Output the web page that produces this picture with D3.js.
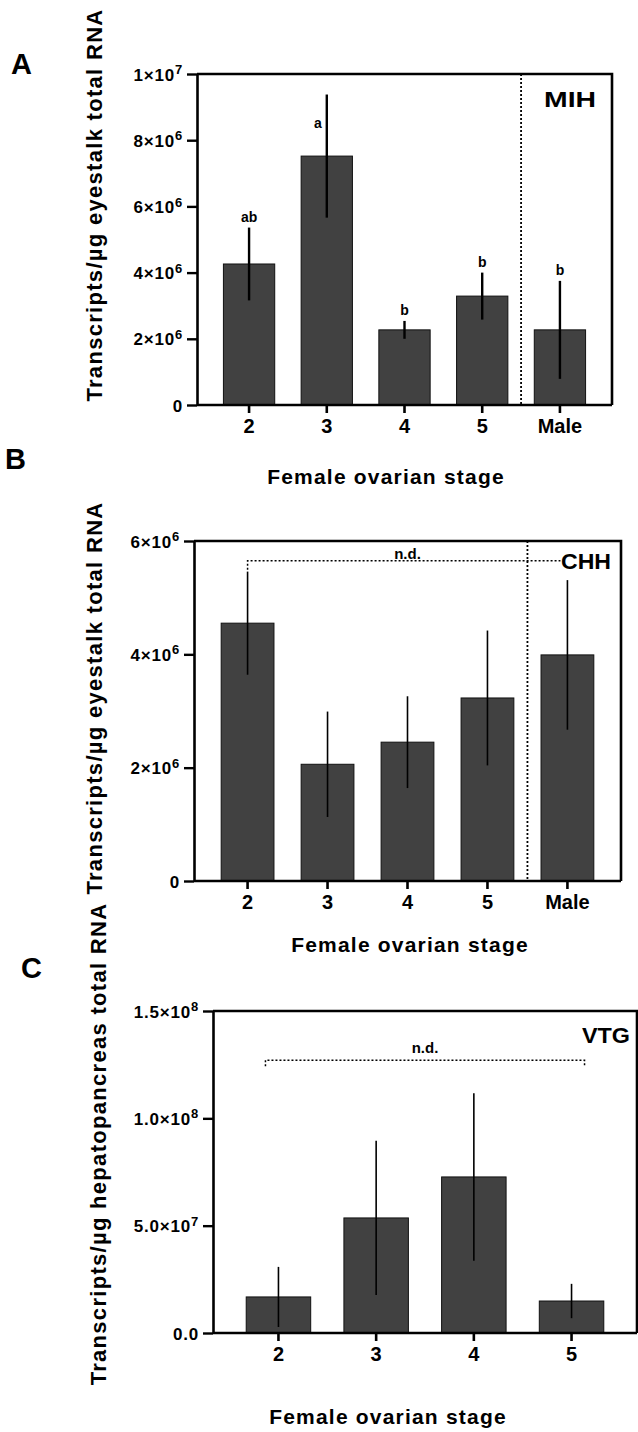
<!DOCTYPE html>
<html>
<head>
<meta charset="UTF-8">
<title>MIH CHH VTG</title>
<script src="https://d3js.org/d3.v7.min.js"></script>
<style>
  body { margin: 0; background: #fff; }
  svg text { font-family: "Liberation Sans", Arial, sans-serif; font-weight: bold; fill: #000; }
</style>
</head>
<body>
<svg id="chart" width="638" height="1432"></svg>
<script>
// --- data ---
const stages = ['2', '3', '4', '5', 'Male'];
const stagesVtg = ['2', '3', '4', '5'];

const mihMean = [4.26e6, 7.52e6, 2.27e6, 3.29e6, 2.27e6];
const mihErr = [1.10e6, 1.86e6, 0.27e6, 0.71e6, 1.48e6];
const mihLetters = ['ab', 'a', 'b', 'b', 'b'];

const chhMean = [4.55e6, 2.06e6, 2.45e6, 3.23e6, 3.99e6];
const chhErr = [0.91e6, 0.93e6, 0.81e6, 1.19e6, 1.32e6];

const vtgMean = [1.68e7, 5.36e7, 7.27e7, 1.49e7];
const vtgErr = [1.40e7, 3.59e7, 3.90e7, 0.80e7];

const ticksA = [0, 2e6, 4e6, 6e6, 8e6, 1e7];
const ticksB = [0, 2e6, 4e6, 6e6];
const ticksC = [0, 5e7, 1e8, 1.5e8];

const svg = d3.select('#chart');
svg.append('rect').attr('width', 638).attr('height', 1432).attr('fill', '#fff');

// 2×10^6 style labels
function sci(d, dec) {
  if (d === 0) return { m: (0).toFixed(dec), e: null };
  const e = Math.floor(Math.log10(d) + 1e-9);
  return { m: (d / Math.pow(10, e)).toFixed(dec) + '×10', e: e };
}

function drawPanel(cfg) {
  const x = d3.scaleBand().domain(cfg.cats).range([cfg.l, cfg.r]).padding(0.34);
  const y = d3.scaleLinear().domain([0, cfg.max]).range([cfg.b, cfg.t]);
  const g = svg.append('g');
  const cx = c => x(c) + x.bandwidth() / 2;

  // bars
  g.selectAll('rect.bar')
    .data(cfg.mean)
    .join('rect')
    .attr('class', 'bar')
    .attr('x', (d, i) => x(cfg.cats[i]))
    .attr('width', x.bandwidth())
    .attr('y', d => y(d))
    .attr('height', d => y(0) - y(d))
    .attr('fill', '#414141')
    .attr('stroke', '#111')
    .attr('stroke-width', 1);

  // error bars (no caps)
  g.selectAll('line.err')
    .data(cfg.mean)
    .join('line')
    .attr('x1', (d, i) => cx(cfg.cats[i]))
    .attr('x2', (d, i) => cx(cfg.cats[i]))
    .attr('y1', (d, i) => y(d - cfg.err[i]))
    .attr('y2', (d, i) => y(d + cfg.err[i]))
    .attr('stroke', '#000')
    .attr('stroke-width', cfg.errW);

  // dotted separator before "Male"
  if (cfg.cats.includes('Male')) {
    const sx = (cx('5') + cx('Male')) / 2;
    g.append('line')
      .attr('x1', sx).attr('x2', sx)
      .attr('y1', cfg.t).attr('y2', cfg.b)
      .attr('stroke', '#000').attr('stroke-width', 1.8)
      .attr('stroke-dasharray', '2,2');
  }

  // frame
  g.append('path')
    .attr('d', `M${cfg.l},${cfg.t}H${cfg.r}V${cfg.b}`)
    .attr('fill', 'none').attr('stroke', '#000').attr('stroke-width', 2.6);

  // y axis
  const ya = g.append('g')
    .attr('transform', `translate(${cfg.l},0)`)
    .call(d3.axisLeft(y).tickValues(cfg.ticks).tickSize(10).tickSizeOuter(0).tickPadding(4));
  ya.select('.domain').attr('stroke-width', 2.6);
  ya.selectAll('.tick line').attr('stroke-width', 2.4);
  ya.selectAll('.tick text').each(function (d) {
    const t = d3.select(this);
    const s = sci(d, cfg.dec);
    t.text(null)
      .attr('font-size', 17)
      .attr('letter-spacing', 0.8)
      .attr('dy', '0.36em');
    t.append('tspan').text(s.m);
    if (s.e !== null) t.append('tspan').attr('dy', '-0.5em').attr('font-size', 13).text(s.e);
  });
  ya.attr('font-family', null).attr('font-size', null);

  // x axis
  const xa = g.append('g')
    .attr('transform', `translate(0,${cfg.b})`)
    .call(d3.axisBottom(x).tickSize(8).tickSizeOuter(0).tickPadding(6));
  xa.select('.domain').attr('stroke-width', 2.6)
    .attr('d', `M${cfg.l},0H${cfg.r}`);
  xa.selectAll('.tick line').attr('stroke-width', 2.6);
  xa.selectAll('.tick text').attr('font-size', 20);
  xa.attr('font-family', null).attr('font-size', null);

  // x title
  g.append('text')
    .attr('x', cfg.xt[0]).attr('y', cfg.xt[1])
    .attr('text-anchor', 'middle')
    .attr('font-size', 21).attr('letter-spacing', 1.2)
    .text('Female ovarian stage');

  // y title
  g.append('text')
    .attr('transform', `translate(${cfg.yt[0]},${cfg.yt[1]}) rotate(-90)`)
    .attr('text-anchor', 'middle')
    .attr('font-size', 22).attr('letter-spacing', 1.3)
    .text(cfg.ytitle);

  // panel letter
  g.append('text')
    .attr('x', cfg.pl[0]).attr('y', cfg.pl[1])
    .attr('font-size', 29)
    .text(cfg.panel);

  // gene name
  g.append('text')
    .attr('x', cfg.gn[0]).attr('y', cfg.gn[1])
    .attr('text-anchor', 'middle')
    .attr('font-size', 22)
    .attr('textLength', cfg.gn[2]).attr('lengthAdjust', 'spacingAndGlyphs')
    .text(cfg.gene);

  return { g, x, y, cx };
}

// ---------- A: MIH ----------
const A = drawPanel({
  cats: stages, mean: mihMean, err: mihErr, max: 1e7, ticks: ticksA, dec: 0,
  l: 197, r: 612, t: 74, b: 405, errW: 2.4,
  xt: [386, 484], yt: [102, 205], pl: [11, 74], gn: [570, 107, 52],
  ytitle: 'Transcripts/µg eyestalk total RNA', panel: 'A', gene: 'MIH'
});
A.g.selectAll('text.sig')
  .data(mihLetters)
  .join('text')
  .attr('class', 'sig')
  .attr('text-anchor', 'middle')
  .attr('font-size', 14)
  .attr('x', (d, i) => A.cx(stages[i]) + (d === 'a' ? -9 : 0))
  .attr('y', (d, i) => {
    const top = A.y(mihMean[i] + mihErr[i]);
    return d === 'a' ? top + 33 : top - 6;
  })
  .text(d => d);

// ---------- B: CHH ----------
const B = drawPanel({
  cats: stages, mean: chhMean, err: chhErr, max: 6e6, ticks: ticksB, dec: 0,
  l: 194, r: 621, t: 541, b: 881, errW: 1.6,
  xt: [410, 952], yt: [102, 698], pl: [5, 469], gn: [586, 569, 50],
  ytitle: 'Transcripts/µg eyestalk total RNA', panel: 'B', gene: 'CHH'
});
{
  const ly = B.y(5.65e6);
  const x0 = B.cx('2'), x1 = B.cx('Male') - 7;
  B.g.append('path')
    .attr('d', `M${x0},${ly + 9}V${ly}H${x1}`)
    .attr('fill', 'none').attr('stroke', '#000').attr('stroke-width', 1.5)
    .attr('stroke-dasharray', '2,2');
  B.g.append('text')
    .attr('x', (B.cx('2') + B.cx('Male')) / 2).attr('y', ly - 2)
    .attr('text-anchor', 'middle').attr('font-size', 15)
    .text('n.d.');
}

// ---------- C: VTG ----------
const C = drawPanel({
  cats: stagesVtg, mean: vtgMean, err: vtgErr, max: 1.5e8, ticks: ticksC, dec: 1,
  l: 213, r: 637, t: 1011, b: 1333, errW: 1.6,
  xt: [388, 1424], yt: [106, 1144], pl: [21, 978], gn: [606, 1043, 48],
  ytitle: 'Transcripts/µg hepatopancreas total RNA', panel: 'C', gene: 'VTG'
});
{
  const ly = C.y(1.27e8);
  const x0 = C.cx('2') - 13, x1 = C.cx('5') + 13;
  C.g.append('path')
    .attr('d', `M${x0},${ly + 6}V${ly}H${x1}V${ly + 6}`)
    .attr('fill', 'none').attr('stroke', '#000').attr('stroke-width', 1.5)
    .attr('stroke-dasharray', '2,2');
  C.g.append('text')
    .attr('x', (x0 + x1) / 2).attr('y', ly - 7)
    .attr('text-anchor', 'middle').attr('font-size', 15)
    .text('n.d.');
}
</script>
</body>
</html>
